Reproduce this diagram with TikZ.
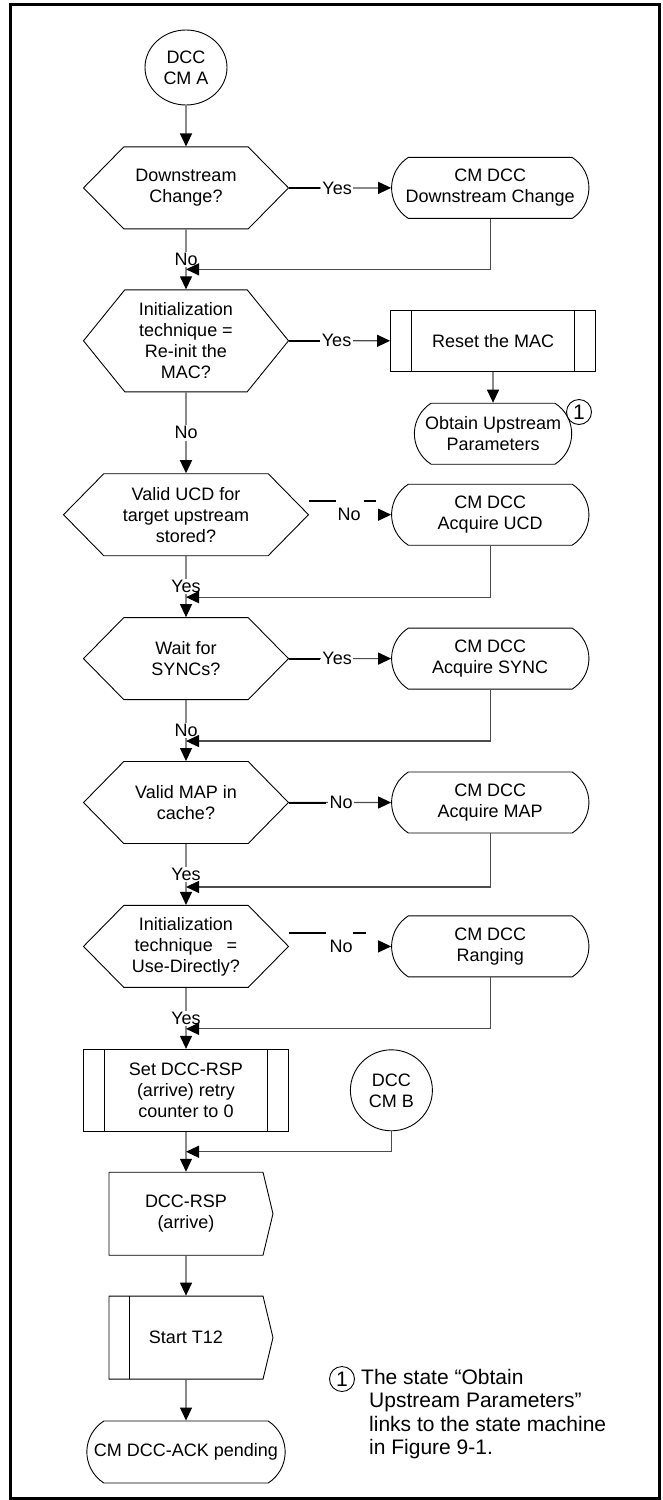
\documentclass[tikz,border=0pt]{standalone}
\usepackage{fontspec}
\setmainfont{Liberation Sans}
\usetikzlibrary{arrows.meta,positioning,shapes.misc,shapes.geometric,shapes.symbols}

\begin{document}
\begin{tikzpicture}[
  x=1pt, y=1pt,
  font=\fontsize{18}{21}\selectfont, node distance=61pt and 102pt,
  test/.style={draw, line width=0.9pt, signal, signal to=east and west, signal pointer angle=91,
    minimum width=205pt, minimum height=82pt, inner sep=1pt, align=center},
  state/.style={draw, line width=0.9pt, rounded rectangle, rounded rectangle arc length=115,
    minimum width=204pt, minimum height=61pt, align=center},
  proc/.style={draw, line width=0.9pt, rectangle, minimum width=205pt, align=center,
    path picture={\draw[line width=0.9pt]
      ([xshift=21pt]path picture bounding box.north west) -- ([xshift=21pt]path picture bounding box.south west)
      ([xshift=-21pt]path picture bounding box.north east) -- ([xshift=-21pt]path picture bounding box.south east);}},
  conn/.style={draw, line width=0.9pt, ellipse, minimum width=82pt, minimum height=75pt, inner sep=0pt, align=center},
  sig/.style={draw, line width=0.9pt, signal, signal to=east, signal pointer angle=153,
    minimum width=164pt, minimum height=83pt, align=center},
  lbl/.style={fill=white, text=black, inner sep=1.5pt},
  arr/.style={-{Triangle[length=13pt, width=12pt, color=black]}, line width=1.2pt, draw=black!70},
  lead/.style={line width=2pt}
]
\useasboundingbox (0,0) rectangle (662,-1500);
\draw[line width=3pt] (10.5,-4.5) rectangle (659.5,-1498.5);

% main column
\node[conn] (cma) at (186,-67.5) {DCC\\CM A};
\node[test, below=41pt of cma] (dsq) {Downstream\\Change?};
\node[state, right=of dsq] (dschg) {CM DCC\\Downstream Change};
\node[test, below=60pt of dsq, minimum height=102pt, signal pointer angle=102] (reinit) {Initialization\\technique =\\Re-init the\\MAC?};
\node[proc, right=101pt of reinit, minimum height=61pt] (reset) {Reset the MAC};
\node[state, below=31pt of reset, minimum width=164pt] (obtain) {Obtain Upstream\\Parameters};
\node[circle, draw, line width=0.9pt, fill=white, inner sep=0pt, minimum size=25pt, font=\fontsize{21}{21}\selectfont] (obt1) at (579,-412) {1};
\node[test, below=81pt of reinit, minimum width=245pt] (ucdq) {Valid UCD for\\target upstream\\stored?};
\node[state, right=82pt of ucdq] (ucd) {CM DCC\\Acquire UCD};
\node[test, below=of ucdq] (syncq) {Wait for\\SYNCs?};
\node[state, right=of syncq] (sync) {CM DCC\\Acquire SYNC};
\node[test, below=of syncq] (mapq) {Valid MAP in\\cache?};
\node[state, right=of mapq] (map) {CM DCC\\Acquire MAP};
\node[test, below=of mapq] (useq) {Initialization\\technique\hspace{14pt}=\\Use-Directly?};
\node[state, right=of useq] (rng) {CM DCC\\Ranging};
\node[proc, below=of useq, minimum height=82pt] (setrsp) {Set DCC-RSP\\(arrive) retry\\counter to 0};
\node[conn, right=61pt of setrsp, minimum height=81pt] (cmb) {DCC\\CM B};
\node[sig, below=40pt of setrsp] (rsp) {DCC-RSP\\(arrive)};
\node[sig, below=40pt of rsp,
  path picture={\draw[line width=0.9pt] ([xshift=20pt]path picture bounding box.north west) -- ([xshift=20pt]path picture bounding box.south west);}] (t12) {Start T12};
\node[state, below=41pt of t12, minimum width=205pt, minimum height=62pt] (ack) {CM DCC-ACK pending};

% footnote
\node[circle, draw, line width=0.9pt, inner sep=0pt, minimum size=25pt, font=\fontsize{21}{21}\selectfont] (fn1) at (342,-1379) {1};
\node[anchor=north west, align=left, inner sep=0pt, font=\fontsize{21}{23.3}\selectfont] (note) at (361,-1369)
  {The state “Obtain\\\hspace*{8pt}Upstream Parameters”\\\hspace*{8pt}links to the state machine\\\hspace*{8pt}in Figure 9-1.};

% down the column
\draw[arr] (cma) -- (dsq);
\draw[arr] (dsq) -- node[lbl]{No} (reinit);
\draw[arr] (reinit) -- node[lbl]{No} (ucdq);
\draw[arr] (ucdq) -- node[lbl]{Yes} (syncq);
\draw[arr] (syncq) -- node[lbl]{No} (mapq);
\draw[arr] (mapq) -- node[lbl]{Yes} (useq);
\draw[arr] (useq) -- node[lbl]{Yes} (setrsp);
\draw[arr] (setrsp) -- (rsp);
\draw[arr] (rsp) -- (t12);
\draw[arr] (t12) -- (ack);

% branches
\draw[arr] (dsq) -- node[lbl, pos=0.47]{Yes} (dschg);
\draw[lead] (dsq.east) -- +(31,0);
\draw[arr] (reinit) -- node[lbl, pos=0.47]{Yes} (reset);
\draw[lead] (reinit.east) -- +(31,0);
\draw[arr] (reset) -- (obtain);
\draw[lead] ([yshift=14pt]ucdq.east) -- +(27,0);
\draw[lead] ([shift={(55pt,14pt)}]ucdq.east) -- +(12,0);
\node (ucdno) at ([xshift=40pt]ucdq.east) {No};
\draw[arr] ([xshift=-12pt]ucd.west) -- (ucd.west);
\draw[arr] (syncq) -- node[lbl, pos=0.47]{Yes} (sync);
\draw[lead] (syncq.east) -- +(31,0);
\draw[arr] (mapq) -- node[lbl, pos=0.51]{No} (map);
\draw[lead] (mapq.east) -- +(37,0);
\draw[lead] ([yshift=13pt]useq.east) -- +(37,0);
\draw[lead] ([shift={(64pt,13pt)}]useq.east) -- +(13,0);
\node (useno) at ([xshift=52pt]useq.east) {No};
\draw[arr] ([xshift=-12pt]rng.west) -- (rng.west);

% back to the column
\draw[arr] (dschg) |- ([yshift=20pt]reinit.north);
\draw[arr] (ucd) |- ([yshift=20pt]syncq.north);
\draw[arr] (sync) |- ([yshift=20pt]mapq.north);
\draw[arr] (map) |- ([yshift=18pt]useq.north);
\draw[arr] (rng) |- ([yshift=20pt]setrsp.north);
\draw[arr] (cmb) |- ([yshift=-20pt]setrsp.south);
\end{tikzpicture}
\end{document}
